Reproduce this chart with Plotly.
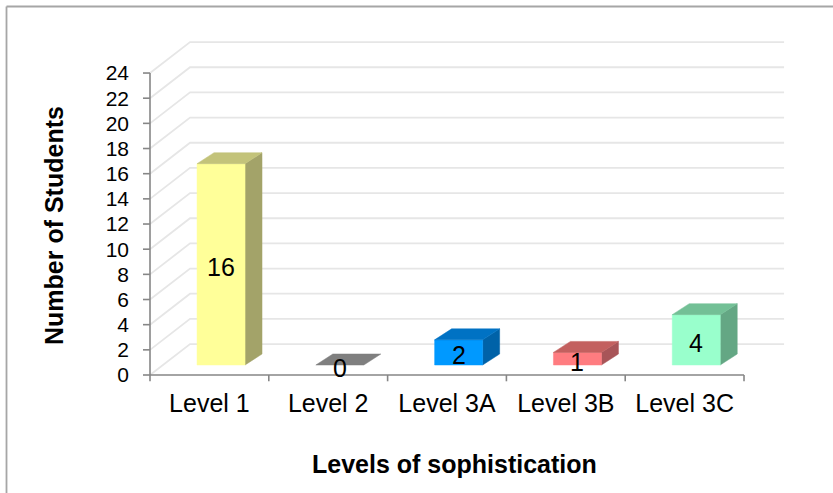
import plotly.graph_objects as go

# ---------------- data ----------------
categories = ["Level 1", "Level 2", "Level 3A", "Level 3B", "Level 3C"]
students = [16, 0, 2, 1, 4]
front_colors = ["#FFFF99", "#A6A6A6", "#0099FF", "#FF7C80", "#99FFCC"]
top_colors = ["#C3C37A", "#7F7F7F", "#0072C4", "#C3605F", "#73C096"]
side_colors = ["#A3A369", "#6B6B6B", "#0062A8", "#A85558", "#64A784"]
y_ticks = list(range(0, 25, 2))
x_title = "Levels of sophistication"
y_title = "Number of Students"

# ---------------- style ----------------
W, H = 833, 493
ML, MR, MT, MB = 138, 36, 30, 107
FONT = "Arial, 'Liberation Sans', sans-serif"
AXIS_C = "#868686"
GRID_C = "#E6E6E6"
WALL_DX, WALL_DY = 0.337, 2.46     # depth of the 3-D walls (axis units)
BAR_OX, BAR_OY = 0.098, 0.795      # front face offset from front plane
BAR_W = 0.404
BAR_DX, BAR_DY = 0.143, 0.874      # bar depth
X_RANGE = [-0.601, 4.946]
Y_RANGE = [-0.874, 27.42]

n = len(categories)
x_lo, x_hi = -0.5, n - 0.5
y_max = y_ticks[-1]

fig = go.Figure()


def line_trace(xs, ys, color, width):
    fig.add_trace(go.Scatter(x=xs, y=ys, mode="lines",
                             line=dict(color=color, width=width),
                             hoverinfo="skip", showlegend=False))


def poly(xs, ys, color):
    fig.add_trace(go.Scatter(x=xs + [xs[0]], y=ys + [ys[0]], mode="lines",
                             fill="toself", fillcolor=color,
                             line=dict(color=color, width=0.5),
                             hoverinfo="skip", showlegend=False))


# walls / gridlines
for v in y_ticks:
    line_trace([x_lo, x_lo + WALL_DX, x_hi + WALL_DX],
               [v, v + WALL_DY, v + WALL_DY], GRID_C, 1.8)

# bars
for i, (v, fc, tc, sc) in enumerate(zip(students, front_colors, top_colors, side_colors)):
    x0 = i + BAR_OX - BAR_W / 2
    x1 = i + BAR_OX + BAR_W / 2
    b = BAR_OY
    t = b + v
    if v > 0:
        poly([x1, x1 + BAR_DX, x1 + BAR_DX, x1], [b, b + BAR_DY, t + BAR_DY, t], sc)
        poly([x0, x1, x1, x0], [b, b, t, t], fc)
    poly([x0, x1, x1 + BAR_DX, x0 + BAR_DX], [t, t, t + BAR_DY, t + BAR_DY], tc)
    fig.add_annotation(x=(x0 + x1) / 2, y=b + v / 2, text=str(v), showarrow=False,
                       yshift=-3, font=dict(family=FONT, size=25, color="#000000"))

# axis lines and ticks
line_trace([x_lo, x_lo], [0, y_max], AXIS_C, 1.6)
line_trace([x_lo, x_hi], [0, 0], AXIS_C, 1.6)
tx, ty = [], []
for v in y_ticks:
    tx += [x_lo - 0.059, x_lo, None]
    ty += [v, v, None]
for k in range(n + 1):
    bnd = x_lo + k
    tx += [bnd, bnd, None]
    ty += [0, -0.5, None]
line_trace(tx, ty, AXIS_C, 1.6)

pw = W - ML - MR
ph = H - MT - MB


def px_x(px):
    return (px - ML) / pw


def px_y(py):
    return (H - MB - py) / ph


fig.add_annotation(xref="paper", yref="paper", x=px_x(54), y=px_y(226),
                   text="<b>%s</b>" % y_title, textangle=-90, showarrow=False,
                   xanchor="center", yanchor="middle",
                   font=dict(family=FONT, size=25, color="#000000"))
fig.add_annotation(xref="paper", yref="paper", x=px_x(454), y=px_y(464),
                   text="<b>%s</b>" % x_title, showarrow=False,
                   xanchor="center", yanchor="middle",
                   font=dict(family=FONT, size=25, color="#000000"))

# outer chart border (left and top visible)
fig.add_shape(type="line", xref="paper", yref="paper",
              x0=px_x(6.5), y0=px_y(H + 2), x1=px_x(6.5), y1=px_y(6.5),
              line=dict(color="#A6A6A6", width=1.8))
fig.add_shape(type="line", xref="paper", yref="paper",
              x0=px_x(6.5), y0=px_y(6.5), x1=px_x(W + 2), y1=px_y(6.5),
              line=dict(color="#A6A6A6", width=1.8))

fig.update_layout(
    width=W, height=H,
    margin=dict(l=ML, r=MR, t=MT, b=MB),
    paper_bgcolor="white", plot_bgcolor="white",
    font=dict(family=FONT, size=25, color="#000000"),
    xaxis=dict(range=X_RANGE, tickmode="array", tickvals=list(range(n)),
               ticktext=categories, showgrid=False, zeroline=False,
               showline=False, ticks="", fixedrange=True,
               tickfont=dict(family=FONT, size=25, color="#000000")),
    yaxis=dict(range=Y_RANGE, tickmode="array", tickvals=y_ticks,
               ticktext=[str(v) for v in y_ticks], showgrid=False,
               zeroline=False, showline=False, ticks="", fixedrange=True,
               ticklabelstandoff=8,
               tickfont=dict(family=FONT, size=21, color="#000000")),
    showlegend=False,
)

fig.write_html("out.html")
